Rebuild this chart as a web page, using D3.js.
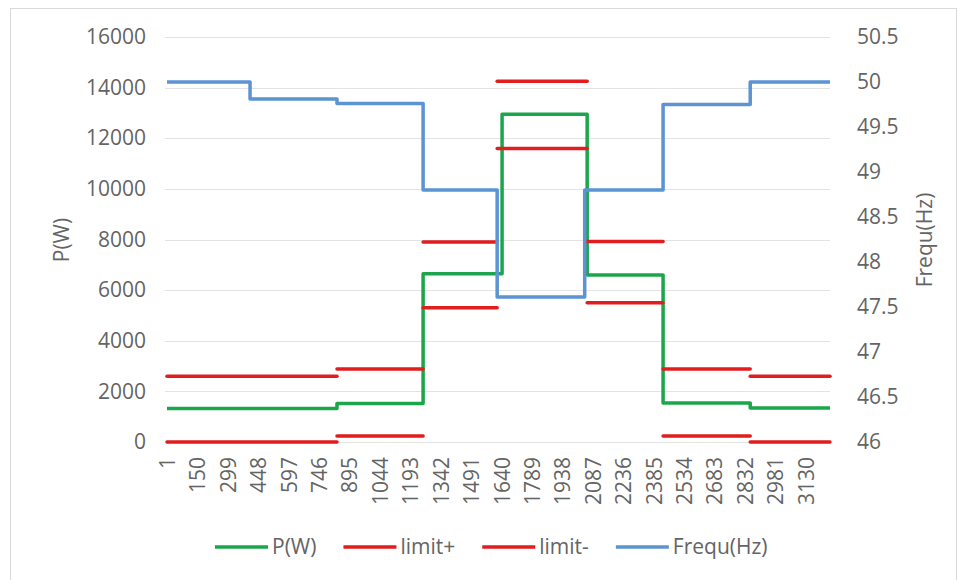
<!DOCTYPE html>
<html>
<head>
<meta charset="utf-8">
<script src="https://cdn.jsdelivr.net/npm/d3@7"></script>
<style>
  html, body { margin: 0; padding: 0; background: #fff; }
  svg { display: block; }
  text { font-family: "Open Sans", "Liberation Sans", sans-serif; fill: #646464; }
</style>
</head>
<body>
<svg id="chart" width="960" height="580"></svg>
<script>
// ---------------- data ----------------
const sampleCount = 3250;
const xTickLabels = [1, 150, 299, 448, 597, 746, 895, 1044, 1193, 1342, 1491, 1640, 1789, 1938, 2087, 2236, 2385, 2534, 2683, 2832, 2981, 3130];
const leftTicks = [0, 2000, 4000, 6000, 8000, 10000, 12000, 14000, 16000];
const rightTicks = [46, 46.5, 47, 47.5, 48, 48.5, 49, 49.5, 50, 50.5];

// P(W): step segments (start sample of each segment, last entry = end)
const powerBreaks = [1, 834, 1256, 1643, 2060, 2432, 2859, 3250];
const powerLevels = [1320, 1520, 6650, 12950, 6600, 1540, 1340];

// limit+ / limit- (same segmentation)
const limitBreaks = [1, 834, 1256, 1619, 2060, 2432, 2859, 3250];
const limitPlus  = [2600, 2880, 7900, 14250, 7920, 2880, 2600];
const limitMinus = [0, 240, 5300, 11600, 5500, 240, 0];

// Frequ(Hz)
const freqBreaks = [1, 408, 834, 1256, 1619, 2048, 2432, 2859, 3250];
const freqLevels = [50.0, 49.81, 49.76, 48.8, 47.61, 48.8, 49.75, 50.0];

const seriesNames = ["P(W)", "limit+", "limit-", "Frequ(Hz)"];
const seriesColors = ["#1ba64b", "#e11d1d", "#e11d1d", "#5b93d3"];

// ---------------- layout ----------------
const svg = d3.select("#chart");
const plot = { left: 167, right: 830, top: 37, bottom: 442 };

svg.append("rect").attr("x", 10.5).attr("y", 8.5).attr("width", 946).attr("height", 580)
  .attr("fill", "#fff").attr("stroke", "#d9d9d9").attr("stroke-width", 1);

const x = d3.scaleLinear().domain([1, sampleCount]).range([plot.left, plot.right]);
const yL = d3.scaleLinear().domain([0, 16000]).range([plot.bottom, plot.top]);
const yR = d3.scaleLinear().domain([46, 50.5]).range([plot.bottom, plot.top]);

// gridlines
svg.append("g").selectAll("line").data(leftTicks).join("line")
  .attr("x1", plot.left - 2).attr("x2", plot.right)
  .attr("y1", d => Math.round(yL(d)) + 0.5).attr("y2", d => Math.round(yL(d)) + 0.5)
  .attr("stroke", "#e3e3e3").attr("stroke-width", 1);

const fs = 21;
// left axis
const gL = svg.append("g").attr("transform", `translate(${plot.left},0)`)
  .call(d3.axisLeft(yL).tickValues(leftTicks).tickSize(0).tickPadding(21).tickFormat(d3.format("d")));
gL.select(".domain").remove();
gL.selectAll("text").style("font-size", fs + "px").attr("fill", "#646464");

// right axis
const gR = svg.append("g").attr("transform", `translate(${plot.right},0)`)
  .call(d3.axisRight(yR).tickValues(rightTicks).tickSize(0).tickPadding(27).tickFormat(d => d3.format("")(d)));
gR.select(".domain").remove();
gR.selectAll("text").style("font-size", fs + "px").attr("fill", "#646464");

// bottom axis
const gB = svg.append("g").attr("transform", `translate(0,${plot.bottom})`)
  .call(d3.axisBottom(x).tickValues(xTickLabels).tickSize(0).tickFormat(d => String(d)));
gB.select(".domain").remove();
gB.selectAll("text")
  .style("font-size", fs + "px").attr("fill", "#646464")
  .attr("text-anchor", "end")
  .attr("transform", "rotate(-90)")
  .attr("x", -15).attr("y", 0).attr("dy", "0.36em");

// axis titles
svg.append("text").attr("transform", "translate(62,240) rotate(-90)")
  .attr("text-anchor", "middle").attr("dy", "0.35em").style("font-size", fs + "px").text("P(W)");
svg.append("text").attr("transform", "translate(925,240) rotate(-90)")
  .attr("text-anchor", "middle").attr("dy", "0.35em").style("font-size", fs + "px").text("Frequ(Hz)");

// ---------------- series ----------------
function stepPoints(breaks, levels) {
  const pts = levels.map((v, i) => [breaks[i], v]);
  pts.push([breaks[breaks.length - 1], levels[levels.length - 1]]);
  return pts;
}
const lineL = d3.line().x(d => x(d[0])).y(d => yL(d[1])).curve(d3.curveStepAfter);
const lineR = d3.line().x(d => x(d[0])).y(d => yR(d[1])).curve(d3.curveStepAfter);

// P(W)
svg.append("path").attr("d", lineL(stepPoints(powerBreaks, powerLevels)))
  .attr("fill", "none").attr("stroke", seriesColors[0]).attr("stroke-width", 3.5)
  .attr("stroke-linejoin", "round");

// limits as separate segments
function drawSegments(levels, color) {
  const segs = levels.map((v, i) => [[limitBreaks[i], v], [limitBreaks[i + 1], v]]);
  svg.append("g").selectAll("path").data(segs).join("path")
    .attr("d", d => d3.line().x(p => x(p[0])).y(p => yL(p[1]))(d))
    .attr("fill", "none").attr("stroke", color).attr("stroke-width", 3.5).attr("stroke-linecap", "round");
}
drawSegments(limitPlus, seriesColors[1]);
drawSegments(limitMinus, seriesColors[2]);

// Frequ(Hz)
svg.append("path").attr("d", lineR(stepPoints(freqBreaks, freqLevels)))
  .attr("fill", "none").attr("stroke", seriesColors[3]).attr("stroke-width", 3.5)
  .attr("stroke-linejoin", "round");

// ---------------- legend ----------------
const legend = svg.append("g");
let lx = 215;
const ly = 547;
seriesNames.forEach((name, i) => {
  legend.append("line").attr("x1", lx).attr("x2", lx + 53).attr("y1", ly).attr("y2", ly)
    .attr("stroke", seriesColors[i]).attr("stroke-width", 3.5);
  const t = legend.append("text").attr("x", lx + 57).attr("y", ly).attr("dy", "0.35em")
    .style("font-size", fs + "px").text(name);
  lx = lx + 57 + t.node().getComputedTextLength() + 27;
});
</script>
</body>
</html>
